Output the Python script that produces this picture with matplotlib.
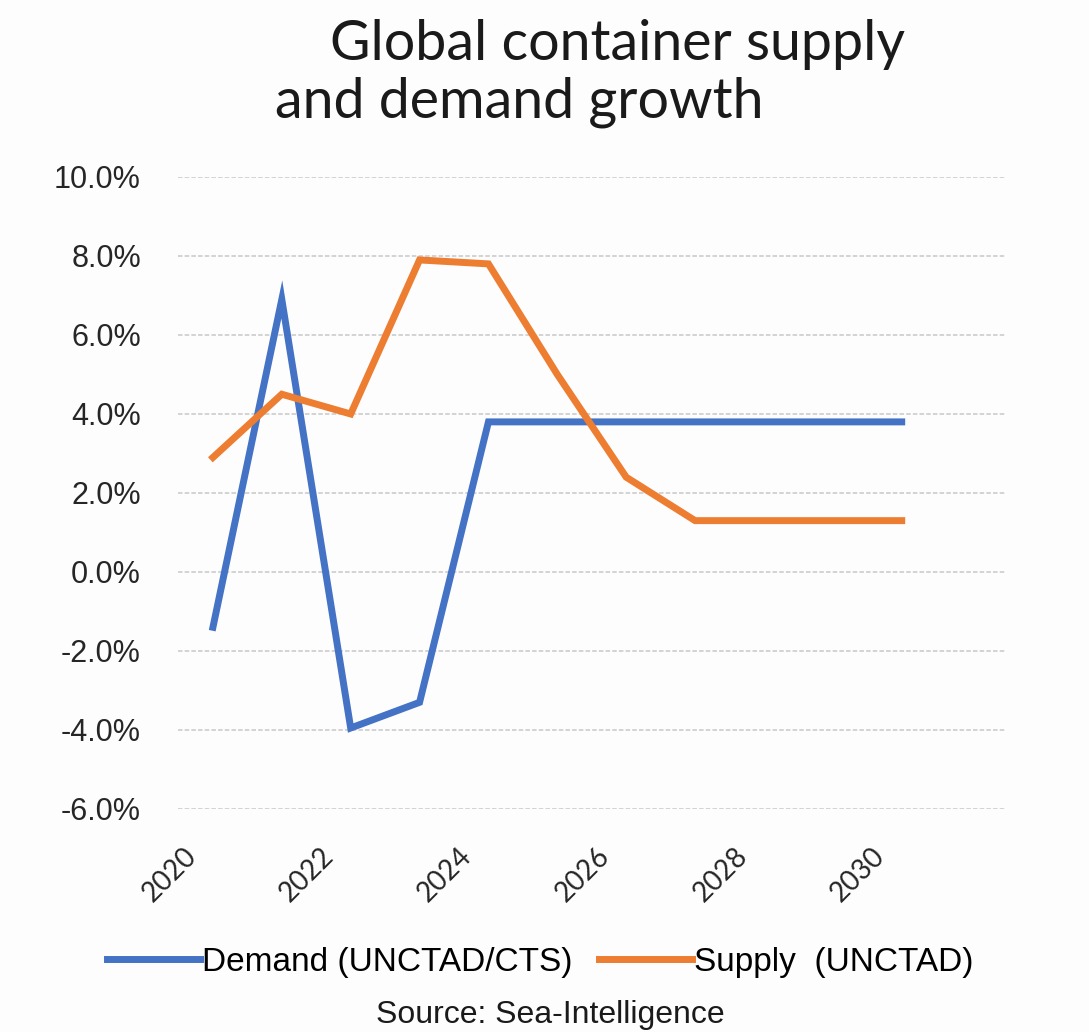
import matplotlib
matplotlib.use("Agg")
import matplotlib.pyplot as plt
import matplotlib.transforms as mtransforms

years = [2020, 2021, 2022, 2023, 2024, 2025, 2026, 2027, 2028, 2029, 2030]
demand = [-1.4, 6.9, -3.95, -3.3, 3.8, 3.8, 3.8, 3.8, 3.8, 3.8, 3.8]
supply = [2.9, 4.5, 4.0, 7.9, 7.8, 5.0, 2.4, 1.3, 1.3, 1.3, 1.3]
y_ticks = [-6, -4, -2, 0, 2, 4, 6, 8, 10]
x_ticks = [2020, 2022, 2024, 2026, 2028, 2030]

blue = "#4472C4"
orange = "#ED7D31"

fig = plt.figure(figsize=(10.89, 10.32), dpi=100, facecolor="#fdfdfd")
ax = fig.add_axes([0.1639, 0.2161, 0.759, 0.6124])
ax.set_facecolor("#fdfdfd")

ax.plot(years, demand, color=blue, lw=5, solid_joinstyle="miter", label="Demand (UNCTAD/CTS)")
ax.plot(years, supply, color=orange, lw=5, solid_joinstyle="miter", label="Supply  (UNCTAD)")

ax.set_xlim(2019.5, 2031.5)
ax.set_ylim(-6, 10)
ax.set_yticks(y_ticks)
ax.set_yticklabels([f"{v:.1f}%" for v in y_ticks], fontsize=22, family="Liberation Sans", color="#262626")
ax.set_xticks(x_ticks)
ax.set_xticklabels([str(v) for v in x_ticks], fontsize=20, family="Lato", color="#262626",
                   rotation=45, ha="right", rotation_mode="anchor")
ax.tick_params(axis="y", length=0, pad=27)
ax.tick_params(axis="x", length=0, pad=24)

# shift the rotated year labels a bit to the left, like the original
shift = mtransforms.ScaledTranslation(-0.3, 0, fig.dpi_scale_trans)
for lbl in ax.get_xticklabels():
    lbl.set_transform(lbl.get_transform() + shift)

for v in y_ticks:
    ax.axhline(v, color="#d0d0d0", lw=1.3, ls=(0, (2.5, 1.2)), zorder=0)
for s in ax.spines.values():
    s.set_visible(False)

fig.text(330 / 1089, 1 - 60 / 1032, "Global container supply", fontsize=40, family="Lato",
         ha="left", va="baseline", color="#1a1a1a")
fig.text(275 / 1089, 1 - 118 / 1032, "and demand growth", fontsize=40, family="Lato",
         ha="left", va="baseline", color="#1a1a1a")

fig.legend(loc="center", bbox_to_anchor=(540 / 1089, 1 - 962 / 1032), ncol=2, frameon=False,
           prop={"family": "Liberation Sans", "size": 24}, handlelength=2.8,
           handletextpad=0.05, columnspacing=0.8)

fig.text(550 / 1089, 1 - 1015 / 1032, "Source: Sea-Intelligence", fontsize=23,
         family="Liberation Sans", ha="center", va="center", color="#1a1a1a")

fig.savefig("out.png", dpi=100, facecolor=fig.get_facecolor())
